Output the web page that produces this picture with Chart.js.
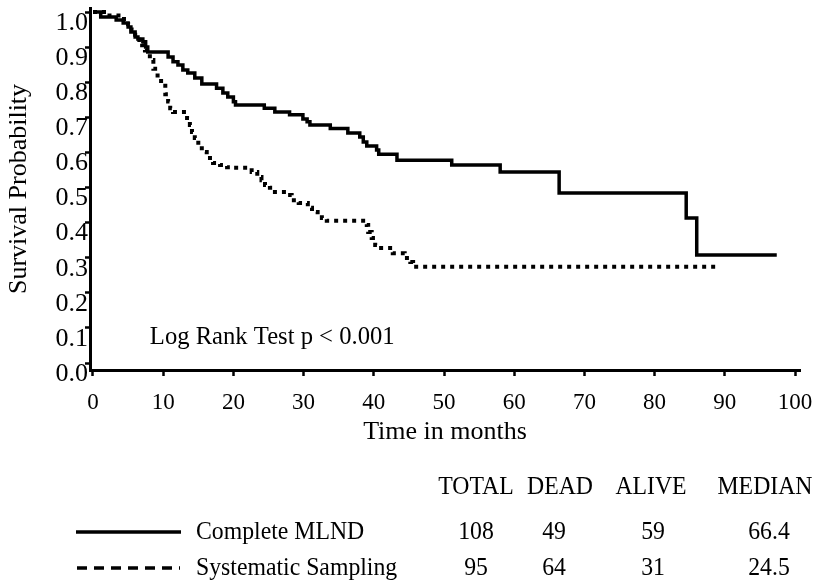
<!DOCTYPE html>
<html>
<head>
<meta charset="utf-8">
<script src="https://cdn.jsdelivr.net/npm/chart.js@4.4.1/dist/chart.umd.min.js"></script>
<style>
html,body{margin:0;padding:0;background:#ffffff;}
#wrap{width:818px;height:583px;position:relative;}
</style>
</head>
<body>
<div id="wrap"><canvas id="c" width="818" height="583"></canvas></div>
<script>
// ---- Data (Kaplan-Meier steps: time in months, survival after the step) ----
const mlndTimes = [0, 1.1, 3.3, 4.3, 5.0, 5.4, 6.0, 6.4, 7.1, 7.5, 7.8, 10.7, 11.4, 12.1, 12.8, 13.5, 14.5, 15.5, 17.6, 18.5, 19.2, 20.0, 20.3, 24.4, 25.9, 28.0, 29.9, 30.5, 30.9, 33.8, 36.3, 38.0, 38.5, 39.0, 40.4, 40.7, 43.3, 51.1, 58.0, 66.4, 84.5, 86.0, 97.4];
const mlndSurv  = [1.0, 0.986, 0.977, 0.969, 0.957, 0.943, 0.929, 0.923, 0.915, 0.900, 0.886, 0.872, 0.858, 0.849, 0.835, 0.826, 0.812, 0.795, 0.783, 0.769, 0.758, 0.744, 0.735, 0.726, 0.715, 0.707, 0.695, 0.687, 0.678, 0.668, 0.655, 0.644, 0.630, 0.618, 0.607, 0.595, 0.578, 0.564, 0.544, 0.484, 0.413, 0.308, 0.308];

const samplingTimes = [0, 2.0, 4.0, 5.0, 5.5, 6.0, 6.6, 7.0, 7.4, 8.1, 8.6, 9.2, 9.7, 10.3, 10.7, 11.0, 11.4, 13.4, 13.8, 14.1, 14.5, 15.0, 15.5, 16.2, 17.1, 18.1, 19.1, 19.6, 22.6, 23.4, 24.0, 24.5, 25.2, 25.6, 27.6, 28.3, 29.3, 30.6, 31.2, 32.0, 32.6, 33.3, 39.0, 39.2, 39.7, 40.2, 40.5, 42.7, 44.4, 45.2, 45.6, 88.9];
const samplingSurv  = [1.0, 0.99, 0.98, 0.965, 0.95, 0.935, 0.92, 0.905, 0.89, 0.863, 0.838, 0.81, 0.79, 0.766, 0.745, 0.726, 0.715, 0.698, 0.678, 0.658, 0.641, 0.621, 0.601, 0.584, 0.570, 0.564, 0.558, 0.556, 0.544, 0.530, 0.521, 0.507, 0.499, 0.487, 0.479, 0.464, 0.456, 0.442, 0.430, 0.422, 0.413, 0.405, 0.393, 0.373, 0.356, 0.336, 0.328, 0.313, 0.299, 0.288, 0.274, 0.274];

const xTickValues = [0, 10, 20, 30, 40, 50, 60, 70, 80, 90, 100];
const yTickValues = [0.0, 0.1, 0.2, 0.3, 0.4, 0.5, 0.6, 0.7, 0.8, 0.9, 1.0];
const yTickLabels = ['0.0', '0.1', '0.2', '0.3', '0.4', '0.5', '0.6', '0.7', '0.8', '0.9', '1.0'];

const seriesNames = ['Complete MLND', 'Systematic Sampling'];
const tableHeaders = ['TOTAL', 'DEAD', 'ALIVE', 'MEDIAN'];
const totals  = ['108', '95'];
const deadN   = ['49', '64'];
const aliveN  = ['59', '31'];
const medians = ['66.4', '24.5'];

const xTitle = 'Time in months';
const yTitle = 'Survival Probability';
const noteText = 'Log Rank Test p < 0.001';
const noteAt = [8.1, 0.074];

// ---- Build chart ----
const FONT = 'Liberation Serif';
const toPts = (ts, vs) => ts.map((t, i) => ({x: t, y: vs[i]}));

function narrowText(ctx, text, x, y, align, sx) {
  ctx.save();
  ctx.translate(x, y);
  ctx.scale(sx, 1);
  ctx.textAlign = align;
  ctx.fillText(text, 0, 0);
  ctx.restore();
}

const extras = {
  id: 'extras',
  afterDraw(chart) {
    const ctx = chart.ctx;
    const xs = chart.scales.x, ys = chart.scales.y;
    ctx.save();
    ctx.fillStyle = '#000';
    ctx.textBaseline = 'middle';
    ctx.font = '25px "' + FONT + '"';
    narrowText(ctx, noteText, xs.getPixelForValue(noteAt[0]), ys.getPixelForValue(noteAt[1]), 'left', 0.985);

    // table
    ctx.font = '25px "' + FONT + '"';
    const sx = 0.95;
    const headerY = 487;
    const rowY = [532, 568];
    const headX = [476, 560, 651, 765];
    const valX = [476, 554, 653, 769];
    tableHeaders.forEach((h, i) => narrowText(ctx, h, headX[i], headerY, 'center', sx));
    const cols = [totals, deadN, aliveN, medians];
    for (let r = 0; r < 2; r++) {
      narrowText(ctx, seriesNames[r], 196, rowY[r], 'left', sx);
      cols.forEach((c, i) => narrowText(ctx, c[r], valX[i], rowY[r], 'center', sx));
    }
    // legend lines
    ctx.strokeStyle = '#000';
    ctx.lineWidth = 3.5;
    ctx.setLineDash([]);
    ctx.beginPath(); ctx.moveTo(76, rowY[0]); ctx.lineTo(181, rowY[0]); ctx.stroke();
    ctx.setLineDash([10, 7]);
    ctx.beginPath(); ctx.moveTo(77, rowY[1]); ctx.lineTo(180, rowY[1]); ctx.stroke();
    ctx.restore();
  }
};

new Chart(document.getElementById('c'), {
  type: 'line',
  data: {
    datasets: [
      {
        label: seriesNames[0],
        data: toPts(mlndTimes, mlndSurv),
        borderColor: '#000',
        borderWidth: 3.5,
        stepped: true,
        pointRadius: 0,
        fill: false
      },
      {
        label: seriesNames[1],
        data: toPts(samplingTimes, samplingSurv),
        borderColor: '#000',
        borderWidth: 4,
        borderDash: [4, 5],
        borderCapStyle: 'butt',
        stepped: true,
        pointRadius: 0,
        fill: false
      }
    ]
  },
  options: {
    responsive: false,
    devicePixelRatio: 1,
    animation: false,
    layout: { padding: { left: 0, right: 18, top: 8, bottom: 133 } },
    plugins: { legend: { display: false }, tooltip: { enabled: false } },
    scales: {
      x: {
        type: 'linear',
        min: -0.427,
        max: 100.71,
        afterBuildTicks: s => { s.ticks = xTickValues.map(v => ({value: v})); },
        afterFit: s => { s.height = 80; s.paddingLeft = 0; s.paddingRight = 0; },
        grid: { drawOnChartArea: false, drawTicks: true, tickLength: 6, tickWidth: 2.5, tickColor: '#000' },
        border: { display: true, color: '#000', width: 3 },
        ticks: { color: '#000', font: { family: FONT, size: 23 }, padding: 13, maxRotation: 0, autoSkip: false },
        title: { display: true, text: xTitle, color: '#000', font: { family: FONT, size: 26 }, padding: { top: 0, bottom: 2 } }
      },
      y: {
        type: 'linear',
        min: -0.0199,
        max: 1.0114,
        afterBuildTicks: s => { s.ticks = yTickValues.map(v => ({value: v})); },
        afterFit: s => { s.width = 90; s.paddingTop = 0; s.paddingBottom = 0; },
        grid: { drawOnChartArea: false, drawTicks: true, tickLength: 5, tickWidth: 2.5, tickColor: '#000' },
        border: { display: true, color: '#000', width: 3 },
        ticks: {
          color: '#000', font: { family: FONT, size: 26 }, padding: -3, labelOffset: 11,
          autoSkip: false,
          callback: (v) => { const i = yTickValues.findIndex(t => Math.abs(t - v) < 1e-9); return i >= 0 ? yTickLabels[i] : ''; }
        },
        title: { display: true, text: yTitle, color: '#000', font: { family: FONT, size: 26 }, padding: { top: 4, bottom: 0 } }
      }
    }
  },
  plugins: [extras]
});
</script>
</body>
</html>
